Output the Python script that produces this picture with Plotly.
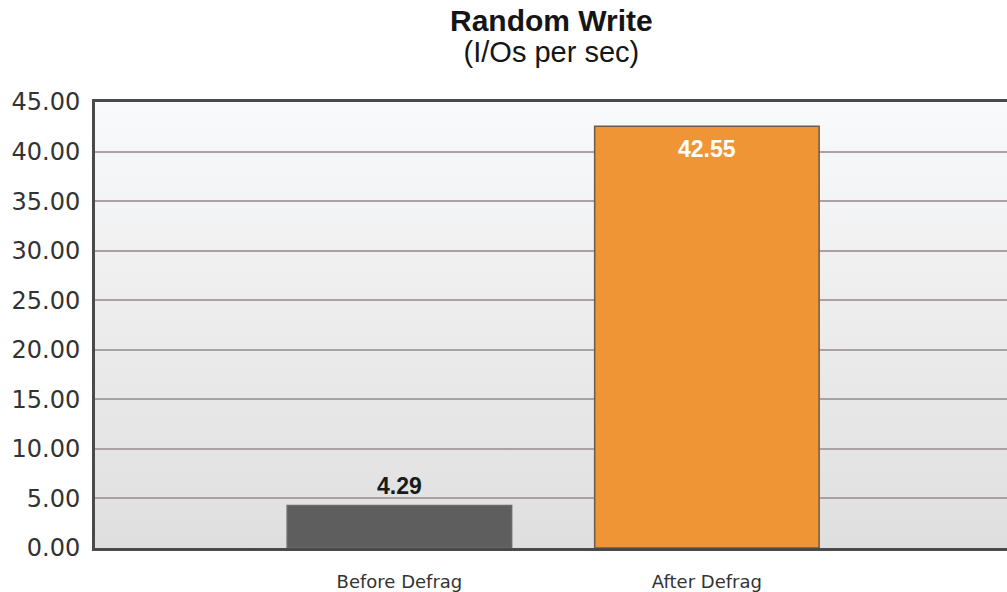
import base64
import plotly.graph_objects as go

categories = ["Before Defrag", "After Defrag"]
values = [4.29, 42.55]
value_labels = ["4.29", "42.55"]
bar_colors = ["#5e5e5e", "#ef9536"]
line_colors = ["#6a6a6a", "#6e5a48"]
label_colors = ["#1a1a1a", "#ffffff"]
label_inside = [False, True]
y_ticks = [0, 5, 10, 15, 20, 25, 30, 35, 40, 45]

# soft vertical gradient for the plot background (decoration only)
svg = (
    "<svg xmlns='http://www.w3.org/2000/svg' width='10' height='100' preserveAspectRatio='none'>"
    "<defs><linearGradient id='g' x1='0' y1='0' x2='0' y2='1'>"
    "<stop offset='0' stop-color='#f9fafb'/>"
    "<stop offset='0.5' stop-color='#ececed'/>"
    "<stop offset='1' stop-color='#dfdfdf'/>"
    "</linearGradient></defs>"
    "<rect width='10' height='100' fill='url(#g)'/></svg>"
)
bg_src = "data:image/svg+xml;base64," + base64.b64encode(svg.encode()).decode()

fig = go.Figure()
fig.add_trace(go.Bar(
    x=[0, 1],
    y=values,
    width=0.73,
    marker=dict(color=bar_colors, line=dict(color=line_colors, width=1.5)),
    hoverinfo="skip",
))

annotations = [
    dict(text="<span style='font-size:30px'><b>Random Write</b></span><br>"
              "<span style='font-size:29px'>(I/Os per sec)</span>",
         xref="paper", yref="paper", x=0.5, y=1.0, yshift=100,
         xanchor="center", yanchor="top", showarrow=False, align="center",
         font=dict(size=24, color="#151515", family="Liberation Sans, Arial, sans-serif")),
]
for i, (v, lbl) in enumerate(zip(values, value_labels)):
    inside = label_inside[i]
    annotations.append(dict(
        text="<b>" + lbl + "</b>", x=i, y=v, xref="x", yref="y",
        yanchor="top" if inside else "bottom",
        yshift=-8 if inside else 4,
        showarrow=False,
        font=dict(size=23, color=label_colors[i], family="Liberation Sans, Arial, sans-serif"),
    ))

fig.update_layout(
    width=1007, height=592,
    margin=dict(l=95, r=0, t=102, b=44),
    paper_bgcolor="#ffffff",
    plot_bgcolor="rgba(0,0,0,0)",
    showlegend=False,
    font=dict(family="Liberation Sans, Arial, sans-serif", color="#333333"),
    images=[dict(source=bg_src, xref="paper", yref="paper", x=0, y=1,
                 sizex=1, sizey=1, xanchor="left", yanchor="top",
                 sizing="stretch", layer="below")],
    annotations=annotations,
)

fig.update_xaxes(
    range=[-0.99, 1.976],
    tickmode="array", tickvals=[0, 1], ticktext=categories,
    tickfont=dict(size=18, color="#333333", family="DejaVu Sans, Liberation Sans"),
    ticks="", ticklabelstandoff=15,
    showgrid=False, zeroline=False,
    showline=True, linecolor="#4a4a4a", linewidth=3, mirror=True,
)
fig.update_yaxes(
    range=[0, 45],
    tickmode="array", tickvals=y_ticks, tickformat=".2f",
    tickfont=dict(size=24, color="#333333", family="DejaVu Sans, Liberation Sans"),
    ticks="", ticklabelstandoff=7,
    showgrid=True, gridcolor="#aaa2a2", gridwidth=1.5,
    zeroline=False,
    showline=True, linecolor="#4a4a4a", linewidth=3,
)

fig.write_html("out.html", config={"displayModeBar": False},
               post_script="document.body.style.margin='0';")
